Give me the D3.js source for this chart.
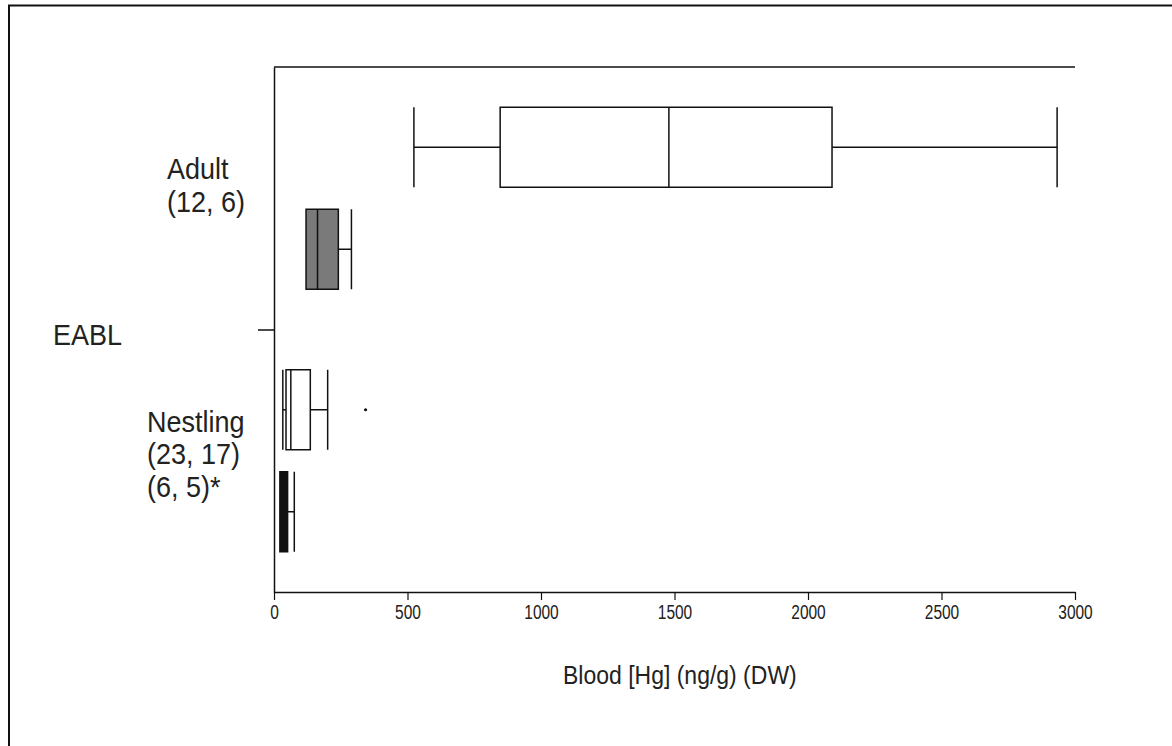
<!DOCTYPE html>
<html>
<head>
<meta charset="utf-8">
<script src="https://cdn.jsdelivr.net/npm/d3@7"></script>
<style>
  body { margin: 0; background: #fff; }
  svg text { font-family: "Liberation Sans", Arial, sans-serif; fill: #222; }
</style>
</head>
<body>
<script>
// datos (ng/g, peso seco)
const species = ["EABL"]
const groups = ["Adult", "Nestling"]
const groupLabels = {
  "Adult": ["Adult", "(12, 6)"],
  "Nestling": ["Nestling", "(23, 17)", "(6, 5)*"]
}
// cada caja: grupo, subcaja, [min, q1, mediana, q3, max]
const boxGroup = ["Adult", "Adult", "Nestling", "Nestling"]
const boxSub   = ["a", "b", "a", "b"]
const boxStats = [
  [524, 847, 1479, 2090, 2933],
  [120, 120, 163, 241, 290],
  [33, 45, 63, 136, 201],
  [22, 22, 39, 51, 76]
]
const boxOutliers = [[], [], [343], []]
const boxFill = ["white", "#7a7a7a", "white", "#111"]
const xTicks = [0, 500, 1000, 1500, 2000, 2500, 3000]

var margin = { top: 67, right: 97, bottom: 154, left: 274 }
var width = 1172 - margin.left - margin.right
var height = 746 - margin.top - margin.bottom

var svg = d3.select("body").append("svg")
    .attr("width", 1172)
    .attr("height", 746)

// marco exterior (solo arriba e izquierda)
svg.append("path")
    .attr("d", "M9,746V5.5H1172")
    .attr("fill", "none")
    .attr("stroke", "#111")
    .attr("stroke-width", 2)

var g = svg.append("g")
    .attr("transform", "translate(" + margin.left + "," + margin.top + ")")

var x = d3.scaleLinear().domain([0, 3000]).range([0, width])
var yGroup = d3.scalePoint().domain(groups).range([0, height]).padding(0.5)
var ySub = d3.scalePoint().domain(["a", "b"]).range([-51, 51])
var ySpecies = d3.scalePoint().domain(species).range([0, height]).padding(0.5)
var boxH = 80

// texto estirado en vertical, como en la imagen original
function stretched(parent, px, py, k, size, txt, anchor) {
    return parent.append("text")
        .attr("transform", "translate(" + px + "," + py + ") scale(1," + k + ")")
        .attr("text-anchor", anchor || "start")
        .style("font-size", size + "px")
        .text(txt)
}

// linea superior
g.append("line")
    .attr("x1", 0).attr("x2", width)
    .attr("y1", 0).attr("y2", 0)
    .attr("stroke", "#111").attr("stroke-width", 1.5)

// eje X
var xAxis = g.append("g")
    .attr("transform", "translate(0," + height + ")")
    .call(d3.axisBottom(x).tickValues(xTicks).tickFormat(d3.format("d")).tickSize(8).tickSizeOuter(0))
xAxis.select(".domain").attr("stroke", "#111").attr("stroke-width", 1.5)
xAxis.selectAll(".tick line").attr("stroke", "#111").attr("stroke-width", 1.2)
xAxis.selectAll(".tick text")
    .attr("y", 0).attr("dy", 0)
    .attr("transform", "translate(0,27) scale(1,1.3)")
    .style("font-size", "15.5px")
    .attr("fill", "#222")

// eje Y
var yAxis = g.append("g")
    .call(d3.axisLeft(ySpecies).tickSize(16).tickSizeOuter(0).tickFormat(""))
yAxis.select(".domain").attr("stroke", "#111").attr("stroke-width", 1.5)
yAxis.selectAll(".tick line").attr("stroke", "#111").attr("stroke-width", 1.5)
species.forEach(function (sp) {
    stretched(g, 53 - margin.left, ySpecies(sp) + 15, 1.08, 27, sp)
})

// etiquetas de grupo
var labelX = { "Adult": 167 - margin.left, "Nestling": 147 - margin.left }
var labelTop = { "Adult": -19, "Nestling": -29 }
groups.forEach(function (grp) {
    groupLabels[grp].forEach(function (l, i) {
        stretched(g, labelX[grp], yGroup(grp) + labelTop[grp] + i * 32.5, 1.08, 27, l)
    })
})

// cajas
var boxes = g.selectAll(".box")
    .data(boxStats.map(function (s, i) {
        return { grp: boxGroup[i], sub: boxSub[i], s: s, out: boxOutliers[i], fill: boxFill[i] }
    }))
    .enter().append("g")
    .attr("class", "box")
    .attr("transform", d => "translate(0," + (yGroup(d.grp) + ySub(d.sub)) + ")")

// bigotes
boxes.append("line")
    .attr("x1", d => x(d.s[0])).attr("x2", d => x(d.s[1]))
    .attr("y1", 0).attr("y2", 0)
    .attr("stroke", "#111").attr("stroke-width", 1.5)
boxes.append("line")
    .attr("x1", d => x(d.s[3])).attr("x2", d => x(d.s[4]))
    .attr("y1", 0).attr("y2", 0)
    .attr("stroke", "#111").attr("stroke-width", 1.5)
boxes.filter(d => d.s[0] < d.s[1]).append("line")
    .attr("x1", d => x(d.s[0])).attr("x2", d => x(d.s[0]))
    .attr("y1", -boxH / 2).attr("y2", boxH / 2)
    .attr("stroke", "#111").attr("stroke-width", 1.5)
boxes.append("line")
    .attr("x1", d => x(d.s[4])).attr("x2", d => x(d.s[4]))
    .attr("y1", -boxH / 2).attr("y2", boxH / 2)
    .attr("stroke", "#111").attr("stroke-width", 1.5)

boxes.append("rect")
    .attr("x", d => x(d.s[1]))
    .attr("width", d => x(d.s[3]) - x(d.s[1]))
    .attr("y", -boxH / 2)
    .attr("height", boxH)
    .attr("fill", d => d.fill)
    .attr("stroke", "#111").attr("stroke-width", 1.5)

boxes.append("line")
    .attr("x1", d => x(d.s[2])).attr("x2", d => x(d.s[2]))
    .attr("y1", -boxH / 2).attr("y2", boxH / 2)
    .attr("stroke", "#111").attr("stroke-width", 1.5)

boxes.selectAll(".out")
    .data(d => d.out)
    .enter().append("circle")
    .attr("cx", d => x(d))
    .attr("cy", 0)
    .attr("r", 1.6)
    .attr("fill", "#111")

// titulo eje X
stretched(svg, margin.left + x(1520), 684, 1.12, 23, "Blood [Hg] (ng/g) (DW)", "middle")
</script>
</body>
</html>
